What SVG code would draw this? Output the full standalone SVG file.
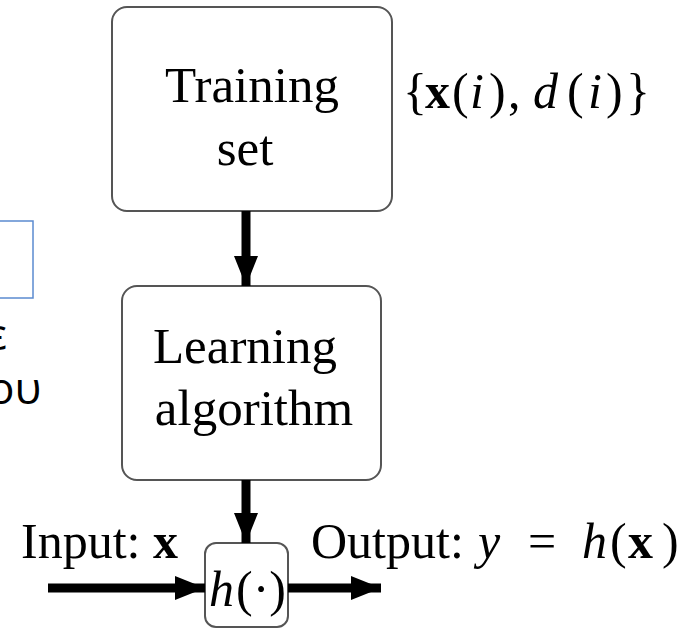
<svg xmlns="http://www.w3.org/2000/svg" width="691" height="630" viewBox="0 0 691 630">
<style>
.box{fill:#fff;stroke:#555;stroke-width:2}
.t{font-family:"Liberation Serif","Times New Roman",serif;fill:#000}
.m{font-family:"Liberation Serif","Times New Roman",serif;fill:#000}
.p{font-family:"Open Sans","Noto Sans",sans-serif;fill:#000}
.conn{stroke:#000;stroke-width:9;fill:none}
</style>
<defs>
<marker id="ah" markerWidth="30" markerHeight="24" refX="30" refY="12" orient="auto" markerUnits="userSpaceOnUse">
<path d="M0,0 L30,12 L0,24 Z" fill="#000"/>
</marker>
</defs>
<rect width="691" height="630" fill="#fff"/>
<g id="partial-left">
<rect x="-10" y="221" width="43" height="77" fill="none" stroke="#5b8bd0" stroke-width="1.5"/>
<text class="p" x="-14" y="350" font-size="44">ε</text>
<text class="p" x="-12" y="404" font-size="44">ου</text>
</g>
<g id="training-set">
<rect class="box" x="112" y="7" width="280" height="204" rx="15"/>
<text class="t" x="252" y="102" font-size="51" text-anchor="middle">Training</text>
<text class="t" x="245" y="165" font-size="51" text-anchor="middle">set</text>
</g>
<g id="training-label">
<text class="m" y="108" font-size="50"><tspan x="403">{</tspan><tspan x="425" font-weight="bold">x</tspan><tspan x="452">(</tspan><tspan x="470" font-style="italic">i</tspan><tspan x="489">)</tspan><tspan x="508">,</tspan><tspan x="533" font-style="italic">d</tspan><tspan x="567">(</tspan><tspan x="588" font-style="italic">i</tspan><tspan x="606">)</tspan><tspan x="626">}</tspan></text>
</g>
<g id="learning-algorithm">
<rect class="box" x="122" y="286" width="259" height="194" rx="15"/>
<text class="t" x="245" y="363" font-size="51" text-anchor="middle">Learning</text>
<text class="t" x="254" y="425" font-size="51" text-anchor="middle">algorithm</text>
</g>
<g id="h-box">
<rect class="box" x="205" y="543" width="83" height="84" rx="11"/>
<text class="m" y="606" font-size="50"><tspan x="209" font-style="italic">h</tspan><tspan x="236">(·)</tspan></text>
</g>
<g id="labels">
<text class="t" x="21" y="558" font-size="50">Input: <tspan font-weight="bold">x</tspan></text>
<text class="t" y="558" font-size="50"><tspan x="311">Output:</tspan><tspan x="478" font-style="italic">y</tspan><tspan x="528">=</tspan><tspan x="582" font-style="italic">h</tspan><tspan x="610">(</tspan><tspan x="628" font-weight="bold">x</tspan><tspan x="662">)</tspan></text>
</g>
<g id="connectors">
<line class="conn" x1="246" y1="211" x2="246" y2="286" marker-end="url(#ah)"/>
<line class="conn" x1="246" y1="480" x2="246" y2="543" marker-end="url(#ah)"/>
<line class="conn" x1="48" y1="588" x2="205" y2="588" marker-end="url(#ah)"/>
<line class="conn" x1="288" y1="588" x2="381" y2="588" marker-end="url(#ah)"/>
</g>
</svg>
